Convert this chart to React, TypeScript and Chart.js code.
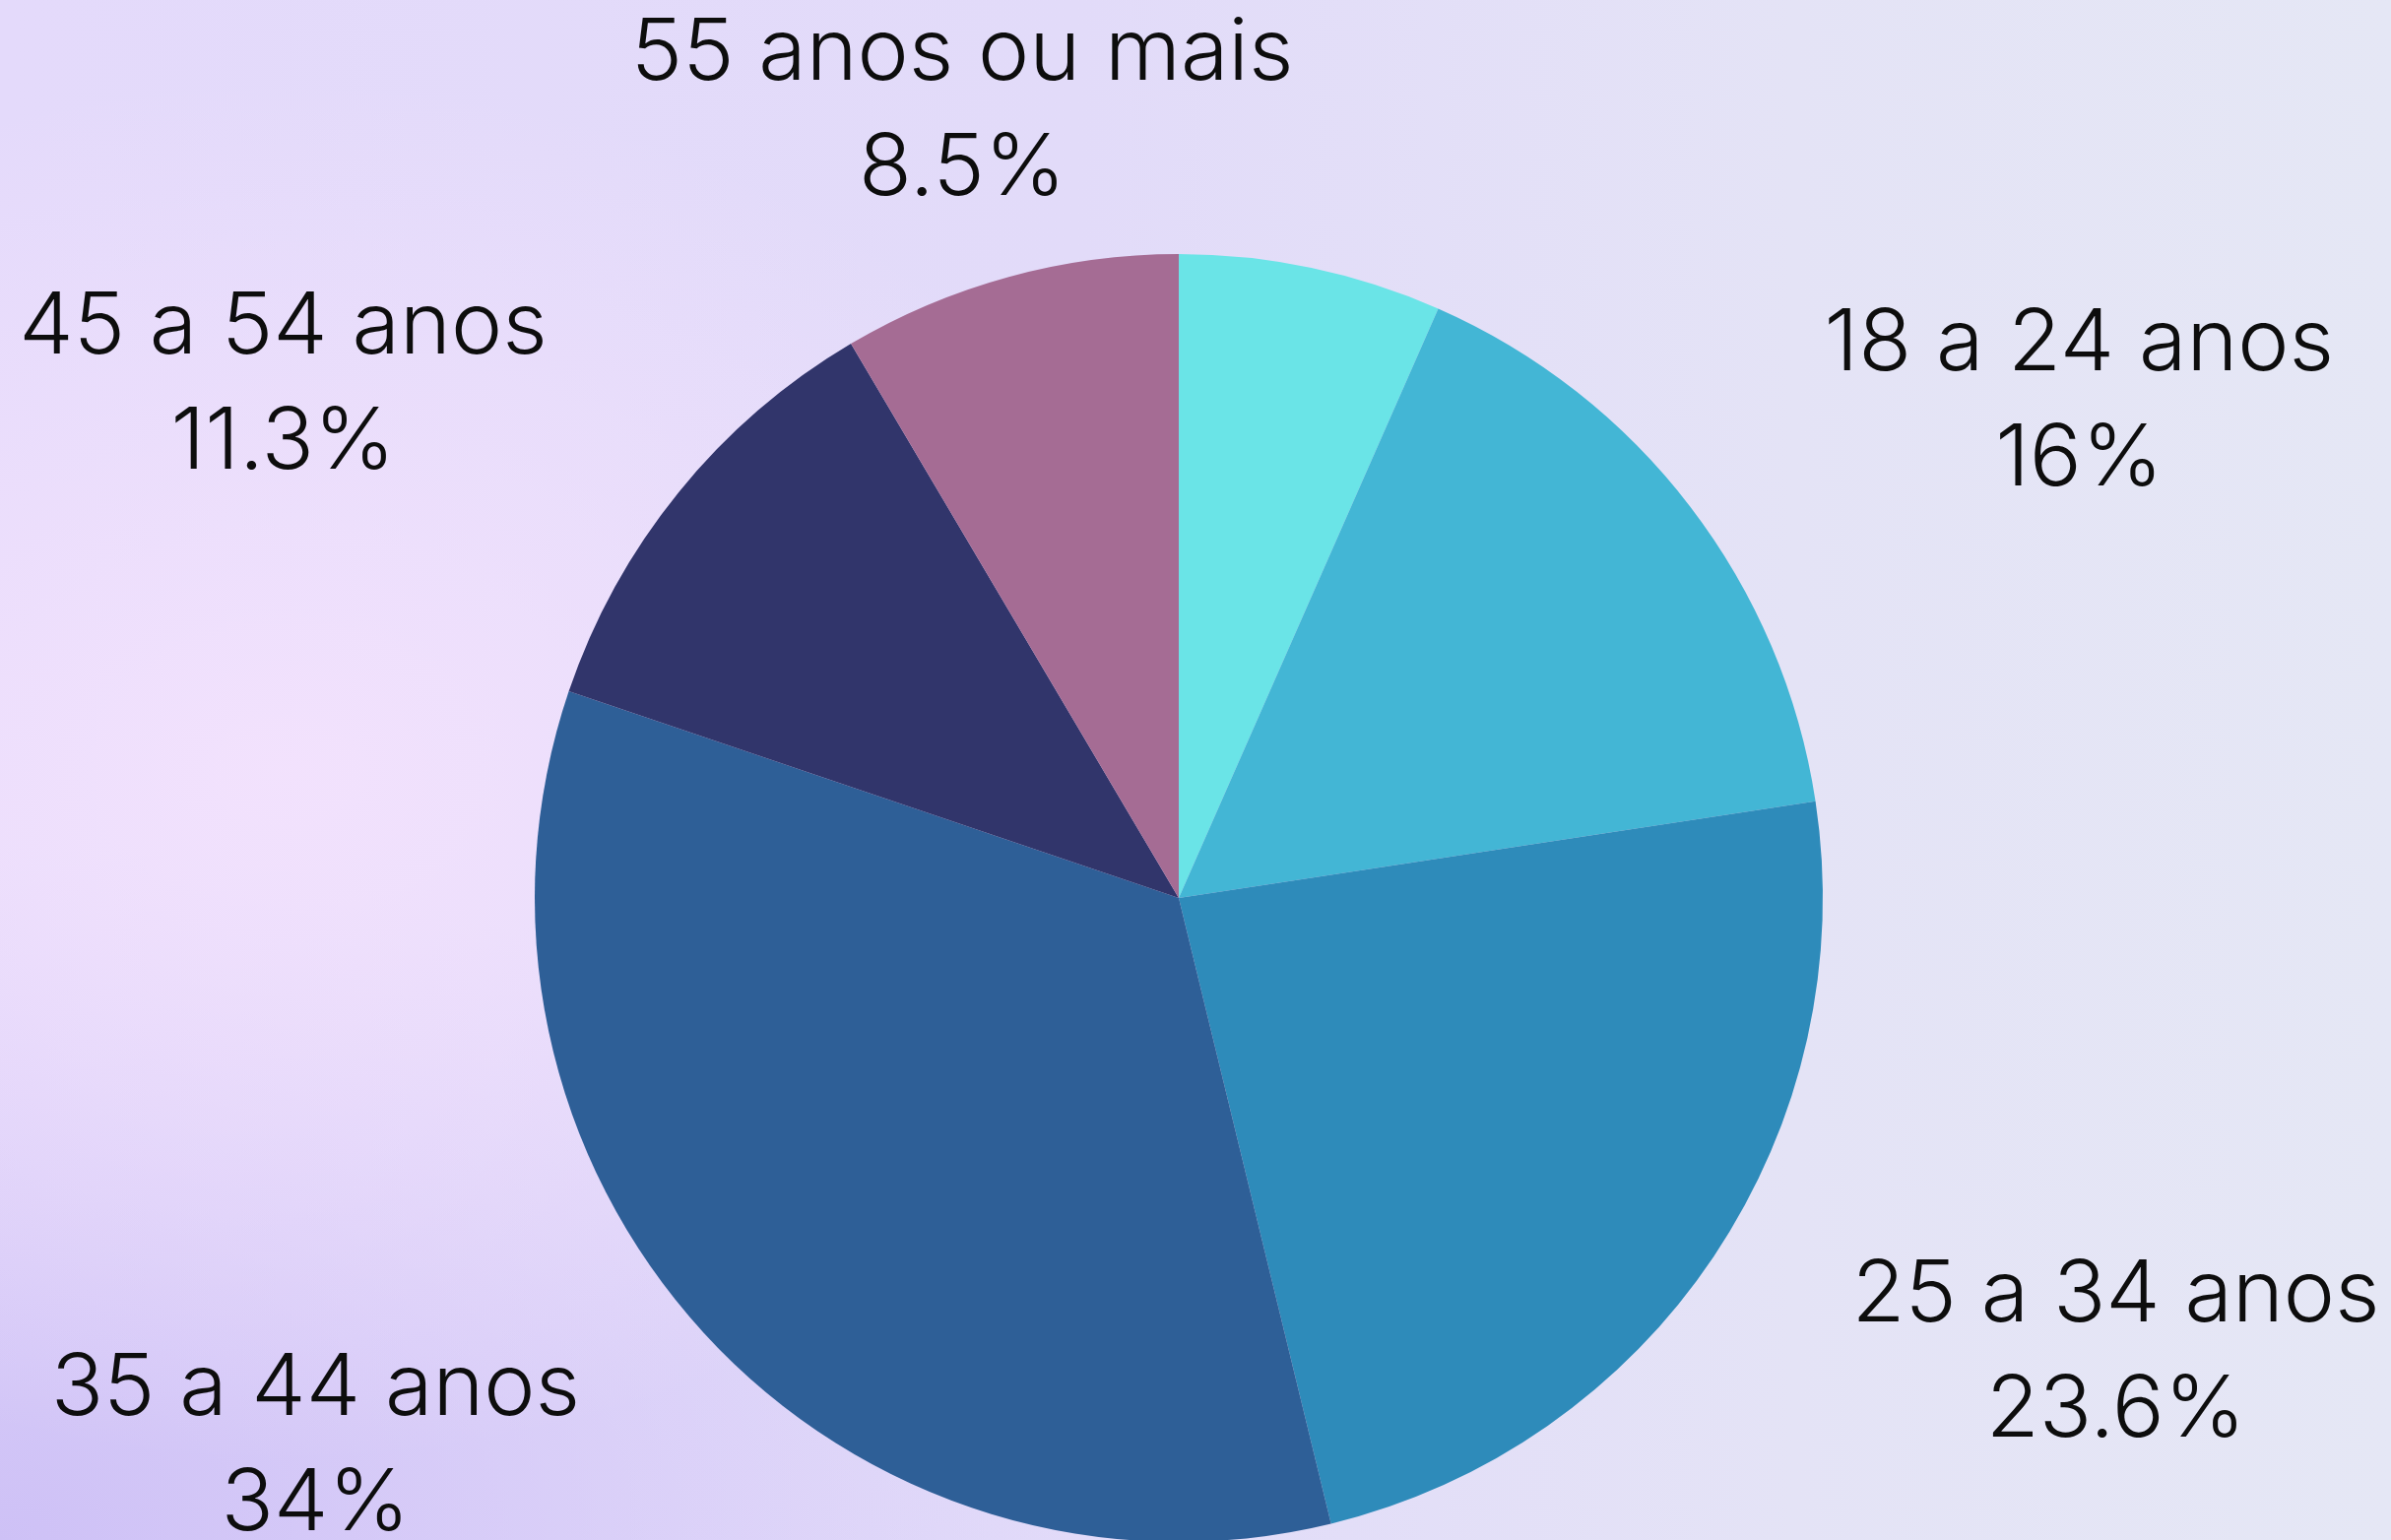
import React, { useEffect, useRef } from "react";
import { Chart, registerables } from "chart.js";

Chart.register(...registerables);

// ---- data ----
const categories: string[] = ["", "18 a 24 anos", "25 a 34 anos", "35 a 44 anos", "45 a 54 anos", "55 anos ou mais"];
const shares: number[] = [6.6, 16, 23.6, 34, 11.3, 8.5];
const sliceColors: string[] = ["#6ae4e7", "#43b6d5", "#2e8bba", "#2e5f97", "#31356b", "#a56c94"];

// ---- label placement (presentation only): angular shift (deg) from slice middle, distance in radii ----
const labelAngleShift: number[] = [0, 8.6, -7.9, 10.0, -9.3, -0.1];
const labelRadius: number[] = [1.45, 1.596, 1.618, 1.589, 1.602, 1.266];

const W = 2428;
const H = 1564;
const CANVAS_H = 1570;

const FONT_SIZE = 86;
const TEXT_SCALE_X = 1.025;
const LINE_GAP = 117;

const labelPlugin = {
  id: "sliceLabels",
  afterDatasetsDraw(chart: any) {
    const meta = chart.getDatasetMeta(0);
    const ctx: CanvasRenderingContext2D = chart.ctx;
    ctx.save();
    ctx.fillStyle = "#0d0d0d";
    ctx.textAlign = "center";
    ctx.textBaseline = "middle";
    ctx.font = `300 ${FONT_SIZE}px Inter, "Noto Sans", sans-serif`;
    meta.data.forEach((arc: any, i: number) => {
      if (!categories[i]) return;
      const p = arc.getProps(["x", "y", "startAngle", "endAngle", "outerRadius"], true);
      const mid = (p.startAngle + p.endAngle) / 2 + (labelAngleShift[i] * Math.PI) / 180;
      const r = p.outerRadius * labelRadius[i];
      const lx = p.x + Math.cos(mid) * r;
      const ly = p.y + Math.sin(mid) * r;
      const lines = [categories[i], `${shares[i]}%`];
      lines.forEach((t, k) => {
        ctx.save();
        ctx.translate(lx, ly + (k === 0 ? -LINE_GAP / 2 : LINE_GAP / 2));
        ctx.scale(TEXT_SCALE_X, 1);
        ctx.fillText(t, 0, 0);
        ctx.restore();
      });
    });
    ctx.restore();
  },
};

export default function App() {
  const ref = useRef<HTMLCanvasElement | null>(null);

  useEffect(() => {
    document.body.style.margin = "0";
    if (!ref.current) return;
    const chart = new Chart(ref.current, {
      type: "pie",
      data: {
        labels: categories,
        datasets: [
          {
            data: shares,
            backgroundColor: sliceColors,
            borderWidth: 0,
            hoverOffset: 0,
          },
        ],
      },
      options: {
        animation: false,
        responsive: false,
        events: [],
        layout: {
          padding: { left: 543, right: 577, top: 258, bottom: CANVAS_H - 258 - 1308 },
        },
        plugins: {
          legend: { display: false },
          tooltip: { enabled: false },
          title: { display: false },
        },
      },
      plugins: [labelPlugin],
    });
    return () => chart.destroy();
  }, []);

  return (
    <div
      style={{
        position: "fixed",
        left: 0,
        top: 0,
        width: W,
        height: H,
        overflow: "hidden",
        background:
          "radial-gradient(ellipse 38% 45% at 12% 50%, rgba(243,226,253,0.95) 0%, rgba(243,226,253,0) 100%)," +
          "radial-gradient(ellipse 45% 45% at 0% 100%, rgba(206,193,246,1) 0%, rgba(206,193,246,0) 100%)," +
          "linear-gradient(90deg, #e4dafb 0%, #e2dbf9 45%, #e4e3f6 75%, #e5e7f5 100%)",
      }}
    >
      <canvas ref={ref} width={W} height={CANVAS_H} style={{ display: "block", width: W, height: CANVAS_H }} />
    </div>
  );
}
